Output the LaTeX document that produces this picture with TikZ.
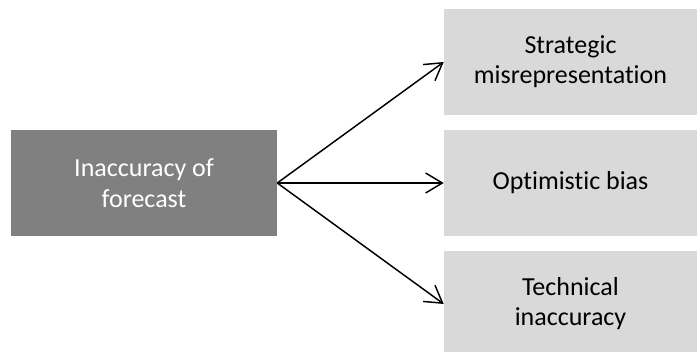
\documentclass[tikz,border=0pt]{standalone}
\usepackage{fontspec}
\setmainfont{Carlito}[Ligatures=NoCommon]
\usepackage{xcolor}
\usetikzlibrary{arrows.meta,positioning}

\begin{document}
\begin{tikzpicture}[
  x=0.75pt, y=-0.75pt,
  cause/.style={fill=black!50, text=white, align=center, minimum width=199.5pt, minimum height=79.5pt, font=\fontsize{19.5}{23}\selectfont, inner sep=0pt},
  effect/.style={fill=black!15, align=center, minimum width=189.75pt, minimum height=79.5pt, font=\fontsize{19.5}{22.5}\selectfont, inner sep=0pt},
  arr/.style={-{Straight Barb[length=12.5pt, width=15pt, line width=1.1pt]}, line width=1.1pt}
]
\useasboundingbox (0,0) rectangle (697,352);
\node[cause] (inacc) at (144,183) {Inaccuracy of\\forecast};
\node[effect] (strat) at (570.5,62) {Strategic\\misrepresentation};
\node[effect] (optim) at (570.5,183) {Optimistic bias};
\node[effect] (tech) at (570.5,304) {Technical\\inaccuracy};
\draw[arr] (inacc.east) -- (strat.west);
\draw[arr] (inacc.east) -- (optim.west);
\draw[arr] (inacc.east) -- (tech.west);
\end{tikzpicture}
\end{document}
